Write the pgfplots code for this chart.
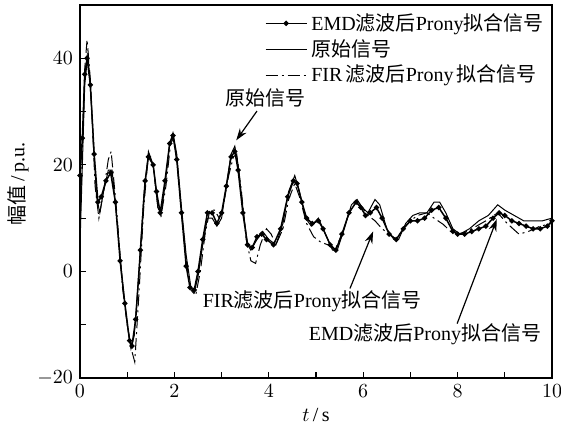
\documentclass[border=0pt]{standalone}
\usepackage{fontspec}
\setmainfont{Liberation Serif}
\newfontfamily\cjk{Noto Sans CJK SC}
\usepackage{pgfplots}
\pgfplotsset{compat=1.18}
\usetikzlibrary{arrows.meta,calc}
\begin{document}
\begin{tikzpicture}
\begin{axis}[
  scale only axis, width=236pt, height=186.5pt,
  xmin=0, xmax=10, ymin=-20, ymax=50,
  xtick={0,2,4,6,8,10}, ytick={-20,0,20,40},
  minor x tick num=1, minor y tick num=1,
  xtick pos=bottom, ytick pos=left,
  tick align=inside,
  major tick length=3pt, minor tick length=3pt,
  axis line style={semithick},
  every tick/.style={black, semithick},
  xlabel={$t$\,/\,s}, ylabel={{\cjk 幅值}\,/\,p.u.},
  every axis x label/.append style={at={(axis description cs:0.5,-0.1)},anchor=center},
  every axis y label/.append style={at={(axis description cs:-0.131,0.52)},anchor=center},
  legend style={at={(axis description cs:1,1)}, anchor=north east, draw=none, fill=none,
     font=\normalsize, row sep=-1pt, inner sep=2pt, cells={anchor=west}},
  legend cell align=left,
  legend image code/.code={\draw[mark repeat=2,mark phase=2,#1] plot coordinates {(0cm,0cm) (0.36cm,0cm) (0.72cm,0cm)};},
]
% EMD filtered Prony fit
\addplot[black, line width=0.75pt, mark=*, mark size=0.9pt] coordinates {
(0.00,18) (0.05,25) (0.10,37) (0.15,40) (0.22,35) (0.30,22) (0.38,13) (0.45,14)
(0.55,17) (0.65,18.5) (0.75,13) (0.85,2) (0.95,-6) (1.05,-13) (1.10,-14) (1.18,-9)
(1.28,4) (1.38,17) (1.45,21.5) (1.55,20) (1.62,15) (1.70,11) (1.80,17) (1.90,24)
(1.97,25.5) (2.05,21) (2.15,11) (2.25,1) (2.33,-3) (2.42,-3.5) (2.50,0) (2.60,6)
(2.70,11) (2.80,11) (2.90,9) (3.00,11) (3.10,16) (3.20,21.5) (3.28,22.5) (3.35,19)
(3.45,11) (3.55,5) (3.65,4.5) (3.75,6.5) (3.85,7) (3.95,6) (4.10,5) (4.25,8)
(4.40,14) (4.52,17) (4.60,16.5) (4.70,13) (4.80,10) (4.92,9) (5.05,9.5) (5.15,8)
(5.30,5) (5.42,4) (5.55,7) (5.70,11) (5.85,13) (5.95,12) (6.05,10.5) (6.15,11)
(6.28,12) (6.40,10) (6.55,7) (6.70,6) (6.85,8) (7.00,9.5) (7.15,9.5) (7.30,10)
(7.45,11.5) (7.60,12) (7.75,10) (7.90,7.5) (8.00,7) (8.15,7) (8.30,7.5) (8.45,8)
(8.60,8.5) (8.75,10) (8.88,11) (9.00,10.5) (9.15,9.5) (9.30,9) (9.45,8.5) (9.60,8)
(9.75,8) (9.90,8.5) (10.00,9.5)
};
\addlegendentry{EMD{\cjk 滤波后}Prony{\cjk 拟合信号}}
% original signal
\addplot[black, line width=0.5pt] coordinates {
(0.00,5) (0.05,20) (0.10,35) (0.17,41) (0.25,30) (0.35,14) (0.42,11) (0.50,15)
(0.60,19) (0.68,19) (0.80,8) (0.90,-2) (1.00,-10) (1.08,-14.5) (1.15,-12) (1.25,0)
(1.35,14) (1.45,22.5) (1.55,20) (1.65,12) (1.72,11) (1.80,16) (1.90,24) (1.97,26)
(2.05,22) (2.15,12) (2.25,3) (2.35,-3) (2.42,-4) (2.50,-1) (2.60,5) (2.70,10)
(2.80,10) (2.90,8.5) (3.00,10) (3.10,16) (3.20,22) (3.28,23.5) (3.35,20) (3.45,12)
(3.55,5) (3.62,4) (3.75,6) (3.87,7.5) (4.00,6) (4.15,5) (4.30,9) (4.42,15)
(4.55,18) (4.65,15) (4.78,10) (4.90,8.5) (5.05,10) (5.20,7) (5.35,4) (5.45,4)
(5.60,8) (5.75,12.5) (5.87,13.5) (5.98,12) (6.10,11) (6.25,13.5) (6.35,12.5) (6.50,8)
(6.65,6) (6.75,6) (6.90,9) (7.05,10.5) (7.20,11) (7.35,11) (7.50,13) (7.62,13)
(7.75,11) (7.90,8) (8.05,7) (8.25,8) (8.45,9.5) (8.65,10.5) (8.85,12.5) (9.00,11.5)
(9.20,10.5) (9.40,9.5) (9.60,9.5) (9.80,9.5) (10.00,10)
};
\addlegendentry{{\cjk 原始信号}}
% FIR filtered Prony fit
\addplot[black, line width=0.5pt, dash pattern=on 6pt off 2pt on 1pt off 2pt] coordinates {
(0.00,8) (0.05,22) (0.10,38) (0.15,43.5) (0.22,36) (0.32,16) (0.40,10) (0.50,15)
(0.60,21) (0.66,22.5) (0.78,11) (0.90,-3) (1.00,-10) (1.10,-15) (1.16,-17) (1.25,-4)
(1.35,12) (1.45,22) (1.55,20) (1.65,12) (1.72,10.5) (1.82,16) (1.92,24) (1.98,25)
(2.05,21) (2.15,11) (2.25,2) (2.35,-3.5) (2.45,-4.5) (2.55,0) (2.65,7) (2.75,11.5)
(2.85,11.5) (2.95,10) (3.05,13) (3.15,18) (3.25,21.5) (3.32,22) (3.42,15) (3.52,6)
(3.62,2) (3.72,1.5) (3.82,5) (3.95,8) (4.05,7) (4.15,5) (4.30,8) (4.42,13.5)
(4.55,16.5) (4.65,14) (4.80,9) (4.95,6.5) (5.10,5.5) (5.25,5) (5.40,4) (5.55,7)
(5.70,11) (5.85,13) (5.98,12) (6.10,10.5) (6.25,9.5) (6.40,8) (6.55,7) (6.70,6)
(6.85,8) (7.00,9.5) (7.15,10.5) (7.35,11) (7.50,10) (7.70,8.8) (7.85,7.5) (8.00,7)
(8.20,7.5) (8.40,8.5) (8.60,9.5) (8.85,11) (9.05,9) (9.30,7) (9.50,7.5) (9.75,8.5)
(10.00,9)
};
\addlegendentry{FIR\,{\cjk 滤波后}Prony\,{\cjk 拟合信号}}
% annotations
\node[anchor=center] at (axis cs:3.94,32.5) {\cjk 原始信号};
\draw[-{Stealth[length=6pt,width=4pt]}, semithick] (axis cs:3.75,30.1) -- (axis cs:3.31,24.6);
\node[anchor=center] at (axis cs:4.92,-5.6) {FIR{\cjk 滤波后}Prony{\cjk 拟合信号}};
\draw[-{Stealth[length=6pt,width=4pt]}, semithick] (axis cs:5.72,-3.2) -- (axis cs:6.21,7.5);
\node[anchor=center] at (axis cs:7.31,-11.8) {EMD{\cjk 滤波后}Prony{\cjk 拟合信号}};
\draw[-{Stealth[length=6pt,width=4pt]}, semithick] (axis cs:7.99,-9.8) -- (axis cs:8.83,9.8);
\end{axis}
\pgfresetboundingbox
\useasboundingbox ($(current axis.south west)+(-40pt,-26pt)$) rectangle ($(current axis.north east)+(4.5pt,2.5pt)$);
\end{tikzpicture}
\end{document}
